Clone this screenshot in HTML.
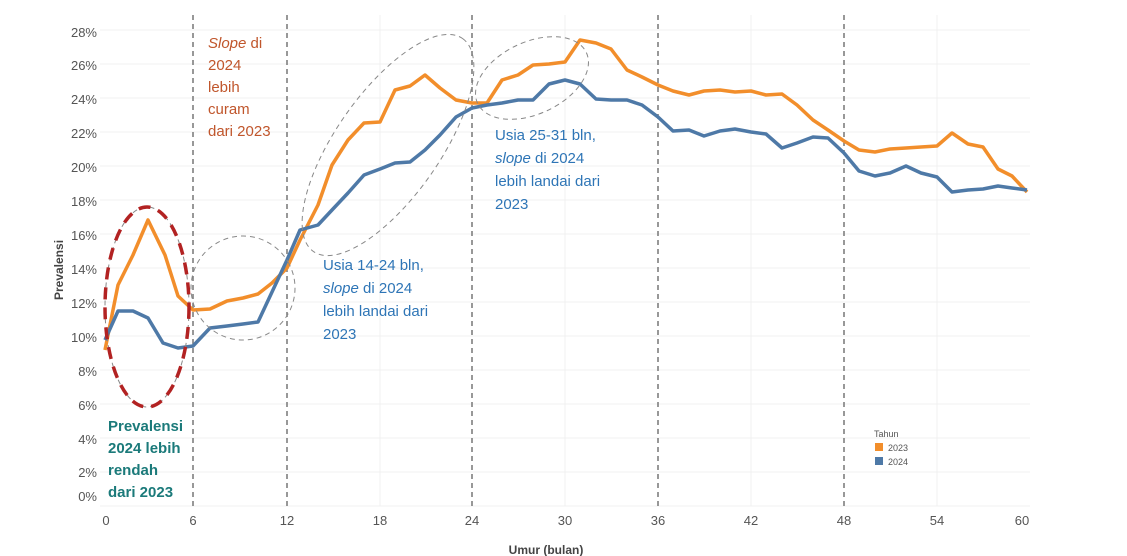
<!DOCTYPE html>
<html><head><meta charset="utf-8"><style>
html,body{margin:0;padding:0;background:#fff;}
svg{display:block;font-family:"Liberation Sans",sans-serif;}
</style></head><body>
<svg width="1127" height="556" viewBox="0 0 1127 556" xmlns="http://www.w3.org/2000/svg">
<g stroke="#f0f0f0" stroke-width="1">
<line x1="100" x2="1030" y1="30" y2="30"/><line x1="100" x2="1030" y1="64" y2="64"/><line x1="100" x2="1030" y1="98" y2="98"/><line x1="100" x2="1030" y1="132" y2="132"/><line x1="100" x2="1030" y1="166" y2="166"/><line x1="100" x2="1030" y1="200" y2="200"/><line x1="100" x2="1030" y1="234" y2="234"/><line x1="100" x2="1030" y1="268" y2="268"/><line x1="100" x2="1030" y1="302" y2="302"/><line x1="100" x2="1030" y1="336" y2="336"/><line x1="100" x2="1030" y1="370" y2="370"/><line x1="100" x2="1030" y1="404" y2="404"/><line x1="100" x2="1030" y1="438" y2="438"/><line x1="100" x2="1030" y1="472" y2="472"/><line x1="100" x2="1030" y1="506" y2="506"/>
<line x1="380" x2="380" y1="15" y2="506"/><line x1="565" x2="565" y1="15" y2="506"/><line x1="751" x2="751" y1="15" y2="506"/><line x1="937" x2="937" y1="15" y2="506"/>
</g>
<g stroke="#777" stroke-width="1.5" stroke-dasharray="5,4">
<line x1="193" x2="193" y1="15" y2="506"/><line x1="287" x2="287" y1="15" y2="506"/><line x1="472" x2="472" y1="15" y2="506"/><line x1="658" x2="658" y1="15" y2="506"/><line x1="844" x2="844" y1="15" y2="506"/>
</g>
<g fill="#555" font-size="13" text-anchor="end">
<text x="97" y="37">28%</text><text x="97" y="70">26%</text><text x="97" y="104">24%</text><text x="97" y="138">22%</text><text x="97" y="172">20%</text><text x="97" y="206">18%</text><text x="97" y="240">16%</text><text x="97" y="274">14%</text><text x="97" y="308">12%</text><text x="97" y="342">10%</text><text x="97" y="376">8%</text><text x="97" y="410">6%</text><text x="97" y="444">4%</text><text x="97" y="477">2%</text><text x="97" y="501">0%</text>
</g>
<g fill="#555" font-size="13" text-anchor="middle">
<text x="106" y="525">0</text><text x="193" y="525">6</text><text x="287" y="525">12</text><text x="380" y="525">18</text><text x="472" y="525">24</text><text x="565" y="525">30</text><text x="658" y="525">36</text><text x="751" y="525">42</text><text x="844" y="525">48</text><text x="937" y="525">54</text><text x="1022" y="525">60</text>
</g>
<text x="0" y="0" transform="translate(63,270) rotate(-90)" font-size="12" font-weight="bold" fill="#444" text-anchor="middle">Prevalensi</text>
<text x="546" y="554" font-size="12" font-weight="bold" fill="#444" text-anchor="middle">Umur (bulan)</text>
<polyline fill="none" stroke="#f28e2b" stroke-width="3.5" stroke-linejoin="round" points="105,350 118,285 133,255 148,220 165,255 178,296 193,310 210,309 227,301 243,298 258,294 272,283 287,268 300,240 318,205 332,165 348,140 364,123 380,122 395,90 410,86 425,75 440,88 456,100 472,103 487,103 502,80 518,75 533,65 549,64 565,62 580,40 596,43 611,49 627,70 642,77 658,85 673,91 689,95 704,91 720,90 735,92 751,91 766,95 782,94 797,105 813,120 828,130 844,141 859,150 875,152 890,149 906,148 921,147 937,146 952,133 968,144 983,147 998,169 1012,176 1027,192"/>
<polyline fill="none" stroke="#4e79a7" stroke-width="3.5" stroke-linejoin="round" points="105,340 118,311 133,311 148,318 163,343 178,348 193,346 210,328 227,326 243,324 258,322 272,292 287,260 300,230 318,225 332,210 348,193 364,175 380,169 395,163 410,162 425,150 440,135 456,117 472,108 487,105 502,103 518,100 533,100 549,84 565,80 580,84 596,99 611,100 627,100 642,105 658,117 673,131 689,130 704,136 720,131 735,129 751,132 766,134 782,148 797,143 813,137 828,138 844,153 859,171 875,176 890,173 906,166 921,173 937,177 952,192 968,190 983,189 998,186 1012,188 1027,190"/>
<ellipse cx="147" cy="307" rx="42" ry="100" fill="none" stroke="#888" stroke-width="1" stroke-dasharray="5,4"/>
<ellipse cx="147" cy="307" rx="42" ry="100" fill="none" stroke="#b22222" stroke-width="3.5" stroke-dasharray="12,8"/>
<ellipse cx="243" cy="288" rx="52" ry="52" transform="rotate(-30 243 288)" fill="none" stroke="#888" stroke-width="1" stroke-dasharray="5,4"/>
<ellipse cx="388" cy="145" rx="130" ry="52" transform="rotate(-55 388 145)" fill="none" stroke="#888" stroke-width="1" stroke-dasharray="5,4"/>
<ellipse cx="532" cy="78" rx="60" ry="36" transform="rotate(-25 532 78)" fill="none" stroke="#888" stroke-width="1" stroke-dasharray="5,4"/>
<g font-size="15" fill="#c0562c">
<text x="208" y="48"><tspan font-style="italic">Slope</tspan> di</text><text x="208" y="70">2024</text><text x="208" y="92">lebih</text><text x="208" y="114">curam</text><text x="208" y="136">dari 2023</text>
</g>
<g font-size="15" fill="#2e75b6">
<text x="323" y="270">Usia 14-24 bln,</text><text x="323" y="293"><tspan font-style="italic">slope</tspan> di 2024</text><text x="323" y="316">lebih landai dari</text><text x="323" y="339">2023</text>
<text x="495" y="140">Usia 25-31 bln,</text><text x="495" y="163"><tspan font-style="italic">slope</tspan> di 2024</text><text x="495" y="186">lebih landai dari</text><text x="495" y="209">2023</text>
</g>
<g font-size="15" fill="#1b7a7a" font-weight="bold">
<text x="108" y="431">Prevalensi</text><text x="108" y="453">2024 lebih</text><text x="108" y="475">rendah</text><text x="108" y="497">dari 2023</text>
</g>
<text x="874" y="437" font-size="9" fill="#555">Tahun</text>
<rect x="875" y="443" width="8" height="8" fill="#f28e2b"/><text x="888" y="451" font-size="9" fill="#555">2023</text>
<rect x="875" y="457" width="8" height="8" fill="#4e79a7"/><text x="888" y="465" font-size="9" fill="#555">2024</text>
</svg>
</body></html>
